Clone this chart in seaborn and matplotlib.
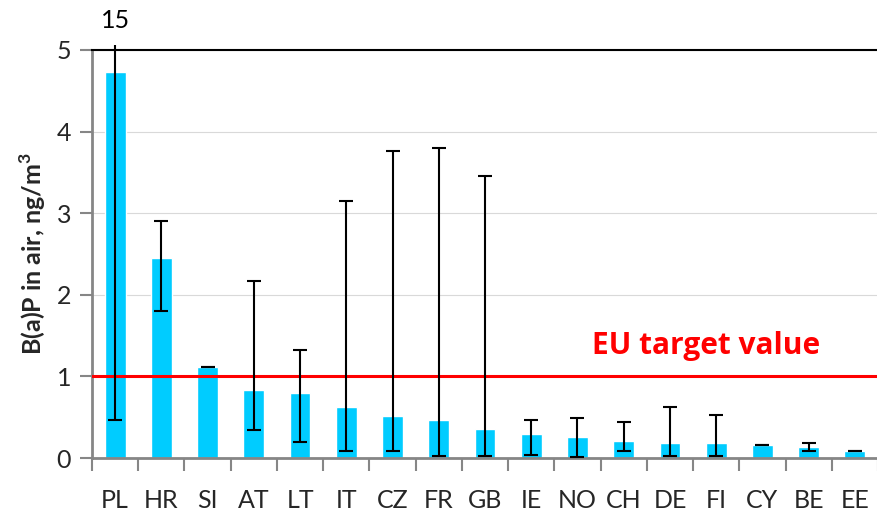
import matplotlib
matplotlib.use("Agg")
import matplotlib.pyplot as plt
import matplotlib.patches as mpatches
import numpy as np
import pandas as pd
import seaborn as sns

# B(a)P annual mean concentrations per country with min / max ranges
countries = ["PL", "HR", "SI", "AT", "LT", "IT", "CZ", "FR", "GB",
             "IE", "NO", "CH", "DE", "FI", "CY", "BE", "EE"]
mean_vals = [4.73, 2.45, 1.12, 0.83, 0.80, 0.63, 0.52, 0.47, 0.35,
             0.30, 0.26, 0.21, 0.19, 0.19, 0.16, 0.14, 0.09]
min_vals = [0.46, 1.80, 1.12, 0.34, 0.20, 0.09, 0.08, 0.02, 0.02,
            0.04, 0.01, 0.09, 0.02, 0.02, 0.16, 0.09, 0.09]
max_vals = [15.0, 2.90, 1.12, 2.17, 1.32, 3.15, 3.76, 3.80, 3.46,
            0.46, 0.49, 0.44, 0.62, 0.53, 0.16, 0.18, 0.09]
target_value = 1.0
y_ticks = [0, 1, 2, 3, 4, 5]

df = pd.DataFrame({"country": countries, "bap": mean_vals})

sns.set_theme(style="white")
plt.rcParams["font.family"] = ["Lato", "DejaVu Sans"]
plt.rcParams["mathtext.fontset"] = "custom"
plt.rcParams["mathtext.rm"] = "Lato"
plt.rcParams["mathtext.bf"] = "Lato:bold"

fig = plt.figure(figsize=(8.78, 5.18), dpi=100)
ax = fig.add_axes([0.1048, 0.1158, 0.8952, 0.7877])

sns.barplot(data=df, x="country", y="bap", color="#00CCFF", saturation=1,
            width=0.45, ax=ax, zorder=2)

x = np.arange(len(countries))
mean_arr = np.array(mean_vals)
lower = mean_arr - np.array(min_vals)
upper = np.array(max_vals) - mean_arr
eb = ax.errorbar(x, mean_arr, yerr=[lower, upper], fmt="none",
                 ecolor="black", elinewidth=1.5, capsize=4.7,
                 capthick=1.5, zorder=4)

# let the PL range poke slightly above the frame, as the value runs off-scale
clip_rect = mpatches.Rectangle((0, 0), 1, 1.013, transform=ax.transAxes,
                               facecolor="none", edgecolor="none")
ax.add_patch(clip_rect)
for artist in list(eb.lines[1]) + list(eb.lines[2]):
    artist.set_clip_path(clip_rect)

ax.text(0, 5.22, "15", ha="center", va="bottom", fontsize=18, color="black")

ax.axhline(target_value, color="#FF0000", lw=2.2, zorder=3)
ax.text(15.25, 1.37, "EU target value", color="#FF0000", fontsize=21.5,
        fontweight="bold", family=["Open Sans", "DejaVu Sans"],
        ha="right", va="center")

ax.set_xlim(-0.5, len(countries) - 0.5)
ax.set_ylim(0, 5)
ax.set_yticks(y_ticks)
ax.set_yticklabels([str(v) for v in y_ticks])
ax.yaxis.grid(True, color="#D9D9D9", lw=0.8, zorder=0)
ax.set_axisbelow(True)

# category ticks sit between bars
ax.set_xticks(np.arange(-0.5, len(countries), 1.0), minor=False)
ax.set_xticklabels([""] * (len(countries) + 1))
ax.set_xticks(x, minor=True)
ax.set_xticklabels(countries, minor=True)
ax.tick_params(axis="x", which="major", direction="out", length=9,
               width=1.5, color="#868686", bottom=True)
ax.tick_params(axis="x", which="minor", length=0, pad=22, labelsize=18)
ax.tick_params(axis="y", direction="out", length=9, width=1.5,
               color="#868686", labelsize=18, left=True, pad=6)

ax.set_xlabel("")
ax.set_ylabel(r"B(a)P in air, ng/m$^\mathbf{3}$", fontsize=18,
              fontweight="bold", labelpad=6)

for side in ("left", "bottom"):
    ax.spines[side].set_color("#868686")
    ax.spines[side].set_linewidth(2)
ax.spines["top"].set_color("black")
ax.spines["top"].set_linewidth(1.5)
ax.spines["right"].set_visible(False)

fig.savefig("out.png", dpi=100)
